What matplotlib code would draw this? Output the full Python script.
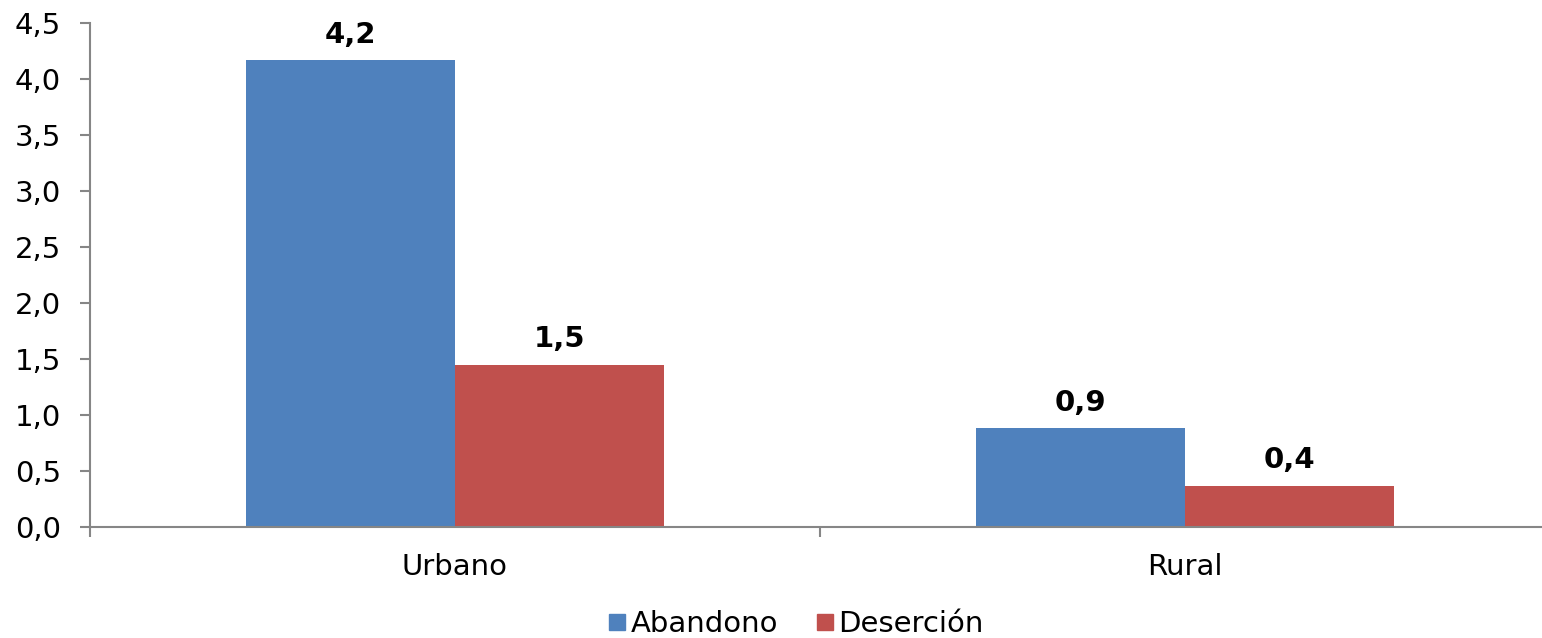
import numpy as np
import matplotlib.pyplot as plt
from matplotlib.lines import Line2D

# datos
categorias = ['Urbano', 'Rural']
abandono = [4.17, 0.88]
desercion = [1.45, 0.37]
etiquetas_abandono = ['4,2', '0,9']
etiquetas_desercion = ['1,5', '0,4']
ticks_y = [0.0, 0.5, 1.0, 1.5, 2.0, 2.5, 3.0, 3.5, 4.0, 4.5]

AZUL = '#4F81BD'
ROJO = '#C0504D'
GRIS = '#868686'

plt.rcParams['font.family'] = ['DejaVu Sans']

fig = plt.figure(figsize=(15.42, 6.38), dpi=100)
# el eje se sale un poco del borde derecho, como en el original
ax = fig.add_axes([90/1542, 111/638, 1460/1542, 504/638])

x = np.arange(len(categorias))
ancho = 0.286
b1 = ax.bar(x - ancho/2, abandono, ancho, color=AZUL, label='Abandono')
b2 = ax.bar(x + ancho/2, desercion, ancho, color=ROJO, label='Deserción')

#etiquetas en negrita arriba de cada barra
for barras, textos in ((b1, etiquetas_abandono), (b2, etiquetas_desercion)):
    for b, t in zip(barras, textos):
        ax.annotate(t, (b.get_x() + b.get_width()/2, b.get_height()),
                    xytext=(0, 8), textcoords='offset points',
                    ha='center', va='bottom', fontsize=21, fontweight='bold')

ax.set_xlim(-0.5, 1.5)
ax.set_ylim(0, 4.5)
ax.set_yticks(ticks_y)
ax.set_yticklabels([f'{v:.1f}'.replace('.', ',') for v in ticks_y], fontsize=21)
ax.tick_params(axis='y', length=7, width=1.5, color=GRIS, pad=14)

# ticks menores como separadores de categorias, etiquetas en el centro
ax.set_xticks(x)
ax.set_xticklabels(categorias, fontsize=21)
ax.tick_params(axis='x', which='major', length=0, pad=19)
ax.set_xticks([-0.5, 0.5, 1.5], minor=True)
ax.tick_params(axis='x', which='minor', length=7, width=1.5, color=GRIS)

for lado in ['top', 'right']:
    ax.spines[lado].set_visible(False)
for lado in ['left', 'bottom']:
    ax.spines[lado].set_color(GRIS)
    ax.spines[lado].set_linewidth(1.5)

handles = [Line2D([], [], marker='s', linestyle='none', markersize=12, color=AZUL),
           Line2D([], [], marker='s', linestyle='none', markersize=12, color=ROJO)]
fig.legend(handles, ['Abandono', 'Deserción'], loc='center',
           bbox_to_anchor=(796/1542, 1 - 624/638), ncol=2, frameon=False,
           fontsize=21, handlelength=0.6, handletextpad=0.15, columnspacing=1.3,
           borderpad=0)

fig.savefig('out.png', dpi=100)
